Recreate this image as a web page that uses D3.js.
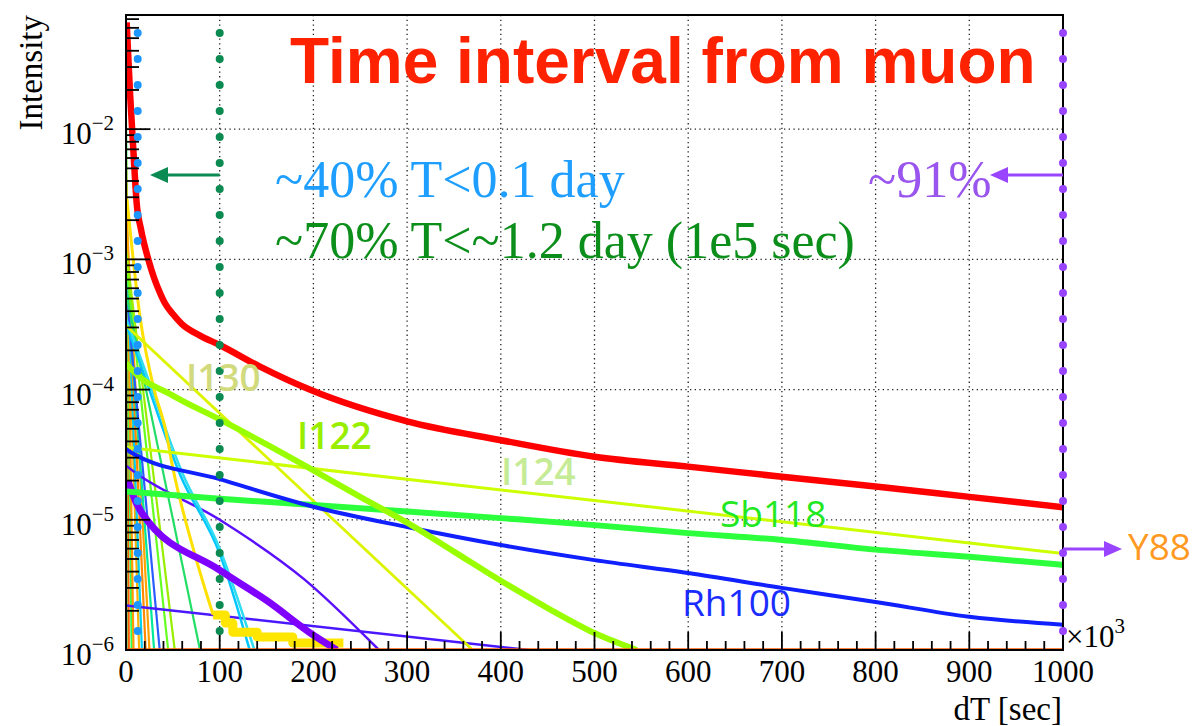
<!DOCTYPE html>
<html><head><meta charset="utf-8">
<script src="https://cdn.jsdelivr.net/npm/d3@7"></script>
<style>body{margin:0;background:#fff}svg{display:block}</style>
</head><body>
<svg id="chart" width="1193" height="726"></svg>
<script>
// dT in units of 10^3 s, intensity per bin

// total rate
const totalX = [0.7, 1.8, 4.3, 7.8, 11.4, 16, 23.8, 30, 36, 41.6, 50, 59.4, 79, 100, 143, 196, 300, 399, 500, 600, 700, 800, 900, 1000];
const totalI = [0.066, 0.045, 0.019, 0.007, 0.0027, 0.0017, 0.001, 7.2e-4, 5.6e-4, 4.6e-4, 3.8e-4, 3.2e-4, 2.6e-4, 2.2e-4, 1.5e-4, 1.0e-4, 5.7e-5, 4.1e-5, 3.05e-5, 2.56e-5, 2.14e-5, 1.8e-5, 1.5e-5, 1.25e-5];

// Rh100
const rhX = [0, 5, 100, 200, 300, 400, 500, 600, 700, 800, 900, 1000];
const rhI = [3.5e-5, 3.3e-5, 2.05e-5, 1.26e-5, 8.8e-6, 6.4e-6, 4.9e-6, 3.9e-6, 3.0e-6, 2.34e-6, 1.8e-6, 1.56e-6];

// Sb118
const sbX = [0, 100, 200, 300, 400, 500, 600, 700, 800, 900, 1000];
const sbI = [1.65e-5, 1.45e-5, 1.3e-5, 1.16e-5, 1.03e-5, 9.1e-6, 7.9e-6, 7.0e-6, 5.9e-6, 5.2e-6, 4.5e-6];

// I122
const i122X = [0, 5, 50, 100, 150, 200, 250, 300, 350, 400, 450, 500, 545];
const i122I = [1.6e-4, 1.45e-4, 9e-5, 5.9e-5, 3.8e-5, 2.4e-5, 1.5e-5, 9.5e-6, 5.7e-6, 3.4e-6, 2.1e-6, 1.35e-6, 1.0e-6];

// I124 (long-lived line ending at the Y88 arrow)
const i124X = [0, 1000];
const i124I = [3.6e-5, 5.5e-6];

// I130
const i130X = [0, 370];
const i130I = [3.1e-4, 1.0e-6];

// violet components
const purpleX = [2, 10, 18, 100, 150, 200, 225];
const purpleI = [2.0e-5, 1.4e-5, 1.1e-5, 4.1e-6, 2.4e-6, 1.3e-6, 1.0e-6];
const violetX = [0, 10, 100, 190, 270];
const violetI = [2.6e-5, 2.3e-5, 1.0e-5, 3.5e-6, 1.0e-6];
const violetFlatX = [0, 430];
const violetFlatI = [2.2e-6, 1.0e-6];

// cyan pair
const cyanAX = [0, 15, 58, 100, 132];
const cyanAI = [3.2e-4, 1.6e-4, 2.2e-5, 5.5e-6, 1.0e-6];
const cyanBX = [0, 15, 60, 100, 137];
const cyanBI = [3.5e-4, 1.8e-4, 2.3e-5, 6e-6, 1.0e-6];

// gold component and its low-statistics tail
const goldX = [1, 15, 30, 42, 50, 72, 93];
const goldI = [2.9e-3, 3.6e-4, 1.0e-4, 5e-5, 2.5e-5, 5.9e-6, 1.86e-6];
const goldTailX = [93, 106, 114, 140, 178, 232];
const goldTailI = [1.86e-6, 1.61e-6, 1.37e-6, 1.26e-6, 1.13e-6, 1.13e-6];

// short-lived components: value at dT=0 and dT where they reach the floor
const steepColor = ["#ff5e00", "#33ff55", "#ff9a00", "#ffb000", "#00d0f0", "#ff8a00", "#ffa200", "#00e89a", "#2a5cff", "#66ff22", "#99ee00", "#22dd66"];
const steepStart = [4e-3, 1.2e-2, 6e-3, 2e-3, 1.5e-3, 1.8e-3, 2.5e-3, 8e-4, 6e-4, 1e-3, 1.2e-3, 5.5e-4];
const steepEnd = [3, 6, 8, 14, 17, 21, 25, 30, 36, 45, 52, 79];

// empty-bin floor
const floorX = [0, 1000];
const floorI = [1e-6, 1e-6];

// axis ticks
const xTicks = [0, 100, 200, 300, 400, 500, 600, 700, 800, 900, 1000];
const yDecades = [-6, -5, -4, -3, -2];

// markers
const cutBlue = 12.5, cutGreen = 100, cutPurple = 1000;

const svg = d3.select("#chart");
const x = d3.scaleLinear().domain([0, 1000]).range([126, 1063]);
const y = d3.scaleLog().domain([1e-6, 0.0753]).range([650, 15]);
const SERIF = "'Liberation Serif','Times New Roman',serif";
const SANS = "'Open Sans','Liberation Sans',sans-serif";

svg.append("defs").append("clipPath").attr("id", "plotclip")
  .append("rect").attr("x", 126).attr("y", 15).attr("width", 937).attr("height", 635);

// grid
const grid = svg.append("g").attr("stroke", "#222").attr("stroke-width", 1.3).attr("stroke-dasharray", "1.3,3.4");
xTicks.slice(1, -1).forEach(v => grid.append("line").attr("x1", x(v)).attr("x2", x(v)).attr("y1", 15).attr("y2", 650));
yDecades.slice(1).forEach(d => grid.append("line").attr("x1", 126).attr("x2", 1063).attr("y1", y(Math.pow(10, d))).attr("y2", y(Math.pow(10, d))));

const plot = svg.append("g").attr("clip-path", "url(#plotclip)");
const lineLin = d3.line().x(d => x(d[0])).y(d => y(d[1]));
const lineSmooth = d3.line().x(d => x(d[0])).y(d => y(d[1])).curve(d3.curveMonotoneX);
const lineStep = d3.line().x(d => x(d[0])).y(d => y(d[1])).curve(d3.curveStepAfter);
const zip = (a, b) => a.map((v, i) => [v, b[i]]);
function draw(gen, xs, is, color, w) {
  plot.append("path").attr("d", gen(zip(xs, is))).attr("fill", "none")
    .attr("stroke", color).attr("stroke-width", w).attr("stroke-linejoin", "round");
}

// short-lived components
steepColor.forEach((c, i) => {
  draw(lineLin, [0, 0, steepEnd[i]], [1e-6, steepStart[i], 1e-6], c, 2.2);
});
draw(lineLin, violetFlatX, violetFlatI, "#4a18ff", 2.5);
draw(lineSmooth, violetX, violetI, "#5a10ff", 2.5);
draw(lineSmooth, cyanAX, cyanAI, "#00c6ff", 2.5);
draw(lineSmooth, cyanBX, cyanBI, "#30dcf0", 2.5);
draw(lineSmooth, goldX, goldI, "#ffe000", 3);
draw(lineStep, goldTailX, goldTailI, "#ffe600", 9);
draw(lineLin, i130X, i130I, "#dcf400", 2.8);
draw(lineSmooth, purpleX, purpleI, "#8000ff", 7);
draw(lineLin, i124X, i124I, "#ccff00", 3);
draw(lineSmooth, sbX, sbI, "#2cff3c", 6);
draw(lineSmooth, rhX, rhI, "#1020ff", 4);
draw(lineSmooth, i122X, i122I, "#99ff00", 6);
draw(lineSmooth, totalX, totalI, "#ff0000", 6.5);
draw(lineLin, floorX, floorI, "#ff5a00", 3.5);

// frame
svg.append("rect").attr("x", 126).attr("y", 15).attr("width", 937).attr("height", 635)
  .attr("fill", "none").attr("stroke", "#000").attr("stroke-width", 2);

// ticks
const ticks = svg.append("g").attr("stroke", "#000").attr("stroke-width", 1.8);
d3.range(0, 1001, 20).forEach(v => {
  const len = v % 100 === 0 ? 18 : 9;
  ticks.append("line").attr("x1", x(v)).attr("x2", x(v)).attr("y1", 650).attr("y2", 650 - len);
});
yDecades.forEach(d => {
  const base = Math.pow(10, d);
  ticks.append("line").attr("x1", 126).attr("x2", 150).attr("y1", y(base)).attr("y2", y(base));
  for (let k = 2; k <= 9; k++) {
    const v = k * base;
    if (v > 0.0753) break;
    ticks.append("line").attr("x1", 126).attr("x2", 139).attr("y1", y(v)).attr("y2", y(v));
  }
});

// tick labels
const lab = svg.append("g").attr("font-family", SERIF).attr("fill", "#000");
xTicks.forEach(v => lab.append("text").attr("x", x(v)).attr("y", 682).attr("text-anchor", "middle")
  .attr("font-size", 31).text(v));
yDecades.forEach(d => {
  const t = lab.append("text").attr("x", 114).attr("y", y(Math.pow(10, d)) + 15).attr("text-anchor", "end").attr("font-size", 31);
  t.append("tspan").text("10");
  t.append("tspan").attr("dy", -14).attr("font-size", 21).text("\u2212" + Math.abs(d));
});
const xm = lab.append("text").attr("x", 1066).attr("y", 647).attr("font-size", 31);
xm.append("tspan").text("\u00d710");
xm.append("tspan").attr("dy", -14).attr("font-size", 21).text("3");
lab.append("text").attr("x", 1062).attr("y", 720).attr("text-anchor", "end").attr("font-size", 33).text("dT [sec]");
lab.append("text").attr("transform", "translate(42,15) rotate(-90)").attr("text-anchor", "end")
  .attr("font-size", 33).text("Intensity");

// cut markers: dotted vertical lines of round dots
function dotColumn(v, color) {
  d3.range(0, 24).forEach(i => {
    svg.append("circle").attr("cx", x(v)).attr("cy", 33 + i * 26).attr("r", 4).attr("fill", color);
  });
}
dotColumn(cutBlue, "#1e96ff");
dotColumn(cutGreen, "#0b8a52");
dotColumn(cutPurple, "#9944ff");

// arrows
function arrow(x1, x2, yy, color) {
  const dir = Math.sign(x2 - x1);
  svg.append("line").attr("x1", x1).attr("x2", x2 - dir * 14).attr("y1", yy).attr("y2", yy)
    .attr("stroke", color).attr("stroke-width", 3);
  svg.append("path").attr("d", `M${x2},${yy} L${x2 - dir * 18},${yy - 8} L${x2 - dir * 18},${yy + 8} Z`).attr("fill", color);
}
arrow(x(cutGreen), 150, 175, "#0b8a52");
arrow(x(cutPurple), 990, 175, "#9944ff");
arrow(x(cutPurple), 1122, 549, "#9944ff");

// annotations
svg.append("text").attr("x", 290).attr("y", 83).attr("font-family", "'Liberation Sans',Arial,sans-serif")
  .attr("font-weight", "bold").attr("font-size", 64).attr("fill", "#ff2200").text("Time interval from muon");
svg.append("text").attr("x", 275).attr("y", 197).attr("font-family", SERIF).attr("font-size", 52)
  .attr("fill", "#1e9eff").text("~40% T<0.1 day");
svg.append("text").attr("x", 275).attr("y", 258).attr("font-family", SERIF).attr("font-size", 52)
  .attr("fill", "#0b8f1a").text("~70% T<~1.2 day (1e5 sec)");
svg.append("text").attr("x", 868).attr("y", 197).attr("font-family", SERIF).attr("font-size", 52)
  .attr("fill", "#9955ee").text("~91%");

const names = svg.append("g").attr("font-family", SANS).attr("font-size", 37);
names.append("text").attr("x", 186).attr("y", 391).attr("font-weight", 600).attr("fill", "#d2da7e").text("I130");
names.append("text").attr("x", 297).attr("y", 449).attr("font-weight", 600).attr("fill", "#99ee00").text("I122");
names.append("text").attr("x", 501).attr("y", 485).attr("font-weight", 600).attr("fill", "#c5eb96").text("I124");
names.append("text").attr("x", 720).attr("y", 527).attr("fill", "#22e822").text("Sb118");
names.append("text").attr("x", 682).attr("y", 616).attr("fill", "#1a2cff").text("Rh100");
names.append("text").attr("x", 1128).attr("y", 560).attr("fill", "#ff9922").text("Y88");
</script>
</body></html>
